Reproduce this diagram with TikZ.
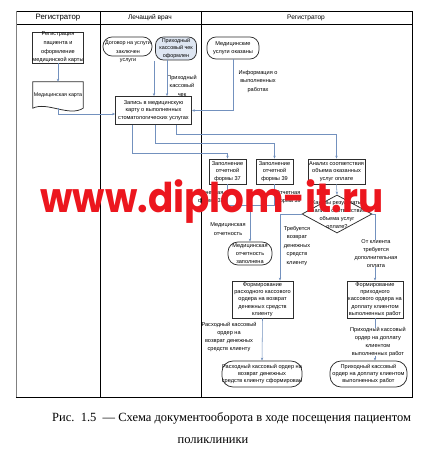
\documentclass[tikz,border=0pt]{standalone}
\usepackage{fontspec}
\setmainfont{Liberation Sans}
\newfontfamily\capfont{Liberation Serif}
\newfontfamily\wmfont{Poppins}
\usetikzlibrary{shapes.geometric,arrows.meta,calc}
\definecolor{conn}{RGB}{115,145,190}
\definecolor{boxc}{RGB}{45,45,45}
\definecolor{wmred}{RGB}{236,22,30}
\definecolor{chekfill}{RGB}{222,230,242}
\begin{document}
\begin{tikzpicture}[x=1pt,y=-1pt,
  txt/.style={font=\fontsize{5.6}{7.8}\selectfont, align=center, inner sep=0pt},
  box/.style={txt, draw=boxc, line width=0.75pt, rectangle},
  term/.style={txt, draw=boxc, line width=0.75pt, rectangle, rounded corners=9pt},
  arr/.style={draw=conn, line width=0.55pt, -{Stealth[length=3pt,width=2.4pt]}},
  ln/.style={draw=conn, line width=0.55pt},
  head/.style={inner sep=0pt, font=\fontsize{6.6}{8}\selectfont}]
\useasboundingbox[fill=white] (0,0) rectangle (434,460);

% frame and lanes
\draw[line width=0.8pt] (16,11) rectangle (412,397);
\draw[line width=0.6pt] (16,24) -- (412,24);
\draw[line width=0.8pt] (100,11) -- (100,397);
\draw[line width=0.8pt] (201,11) -- (201,397);
\draw[line width=0.9pt, gray] (16,11) -- (16,397);
\node[head, font=\fontsize{7.8}{9}\selectfont] (h1) at (58,17.5) {Регистратор};
\node[head] (h2) at (150,17.5) {Лечащий врач};
\node[head] (h3) at (306,17.5) {Регистратор};

% lane 1
\node[box, minimum width=50, minimum height=29, font=\fontsize{5.6}{8.6}\selectfont] (reg) at (58,47.5) {Регистрация\\пациента и\\оформление\\медицинской карты};
\node[txt, minimum width=50, minimum height=26, font=\fontsize{5.3}{7.8}\selectfont] (card) at (58,95) {Медицинская карта};
\draw[boxc, line width=0.75pt] (card.north west) -- (card.north east) -- (card.south east)
  .. controls +(-14,9) and +(14,-7) .. (card.south west) -- cycle;
\draw[arr] (reg.south) -- (card.north);

% lane 2
\node[box, minimum width=76, minimum height=28] (zap) at (153.5,110.5) {Запись в медицинскую\\карту о выполненных\\стоматологических услугах};
\node[term, minimum width=49, minimum height=19] (dog) at (127.5,46.5) {};
\node[txt, font=\fontsize{5.4}{8.5}\selectfont] (dogt) at (128,52) {Договор на услуги\\заключен\\услуги};
\node[term, fill=chekfill, minimum width=41, minimum height=23, rounded corners=8pt, font=\fontsize{5.4}{7.6}\selectfont] (chek) at (176,48.5) {Приходный\\кассовый чек\\оформлен};
\node[txt, font=\fontsize{5.6}{8.5}\selectfont] (lchek) at (182,85.5) {Приходный\\кассовый\\чек};
\coordinate (d1) at (154,61);
\coordinate (c2) at (167,0);
\draw[arr] (d1) -- (d1 |- zap.north);
\draw[arr] (chek.south -| c2) -- (c2 |- zap.north);
\coordinate (c1) at (58,114);
\draw[arr] (card.south) |- (zap.west |- c1);

% lane 3
\node[term, minimum width=52, minimum height=22] (okaz) at (233,48) {Медицинские\\услуги оказаны};
\node[txt, font=\fontsize{5.6}{8.3}\selectfont] (linfo) at (258,81.5) {Информация о\\выполненных\\работах};
\draw[arr] (okaz.south) |- (zap.east);

\node[box, minimum width=37, minimum height=25] (f37) at (227.5,171.5) {Заполнение\\отчетной\\формы 37};
\node[box, minimum width=37, minimum height=25] (f39) at (274.5,171.5) {Заполнение\\отчетной\\формы 39};
\node[box, minimum width=57, minimum height=25] (an) at (336.5,171.5) {Анализ соответствия\\объема оказанных\\услуг оплате};

\coordinate (p1) at (176,134);
\coordinate (p2) at (155,143);
\coordinate (p3) at (132,153);
\draw[arr] (zap.south -| p1) -- (p1) -| (an.north);
\draw[arr] (zap.south -| p2) -- (p2) -| (f39.north);
\draw[arr] (zap.south -| p3) -- (p3) -| (f37.north);

\node[txt] (l37) at (211,197) {Отчетная\\форма 37};
\node[txt] (l39) at (288,197) {Отчетная\\форма 39};
\node[txt, font=\fontsize{5.6}{8.5}\selectfont] (lmed) at (228,229) {Медицинская\\отчетность};
\node[term, minimum width=44, minimum height=23, rounded corners=10pt] (medt) at (250,253.5) {Медицинская\\отчетность\\заполнена};
\coordinate (j) at (250,205);
\draw[ln] (f37.south) |- (j);
\draw[ln] (f39.south) |- (j);
\draw[arr] (j) -- (medt.north);

\node[diamond, draw=boxc, line width=0.75pt, minimum width=70, minimum height=38, inner sep=0pt] (dia) at (337,214) {};
\node[txt, font=\fontsize{5.6}{8.2}\selectfont] (diat) at (337,214.5) {Каковы результаты\\анализа соответствия\\объема услуг\\оплате?};
\draw[arr] (an.south) -- (dia.north);

\node[box, minimum width=61, minimum height=37, font=\fontsize{5.6}{7.3}\selectfont] (rk) at (262.5,299.5) {Формирование\\расходного кассового\\ордера на возврат\\денежных средств\\клиенту};
\node[box, minimum width=56, minimum height=37, font=\fontsize{5.6}{7.3}\selectfont] (pk) at (375,299.5) {Формирование\\приходного\\кассового ордера на\\доплату клиентом\\выполненных работ};
\coordinate (q1) at (280,0);
\draw[arr] (dia.west) -| (q1 |- rk.north);
\node[txt, font=\fontsize{5.6}{8.5}\selectfont] (lvoz) at (297,246) {Требуется\\возврат\\денежных\\средств\\клиенту};
\draw[arr] (dia.east) -| (pk.north);
\node[txt, fill=white, font=\fontsize{5.6}{7.8}\selectfont] (ldop) at (376,253.5) {От клиента\\требуется\\дополнительная\\оплата};

\node[term, minimum width=80, minimum height=26, rounded corners=11pt, font=\fontsize{5.6}{7.4}\selectfont] (rt) at (262,374) {Расходный кассовый ордер на\\возврат денежных\\средств клиенту сформирован};
\node[term, minimum width=77, minimum height=26, rounded corners=11pt, font=\fontsize{5.6}{7.4}\selectfont] (pt) at (368.5,374) {Приходный кассовый\\ордер на доплату клиентом\\выполненных работ};
\draw[arr] (rk.south) -- (rt.north);
\node[txt] (lrk) at (229,337) {Расходный кассовый\\ордер на\\возврат денежных\\средств клиенту};
\draw[arr] (pk.south) -- (pk.south |- pt.north);
\node[txt, fill=white] (lpk) at (378,342) {Приходный кассовый\\ордер на доплату\\клиентом\\выполненных работ};

% watermark
\node[anchor=base, inner sep=0pt, text=wmred, xscale=0.91, transform shape, font=\wmfont\bfseries\fontsize{41}{41}\selectfont] (wm) at (212,212) {www.diplom-it.ru};

% caption
\node[anchor=base west, inner sep=0pt, font=\capfont\fontsize{12.5}{14}\selectfont] (cap1) at (52,421) {Рис.\ \ 1.5\ \ — Схема документооборота в ходе посещения пациентом};
\node[anchor=base, inner sep=0pt, font=\capfont\fontsize{12.5}{14}\selectfont] (cap2) at (213,443) {поликлиники};
\end{tikzpicture}
\end{document}
